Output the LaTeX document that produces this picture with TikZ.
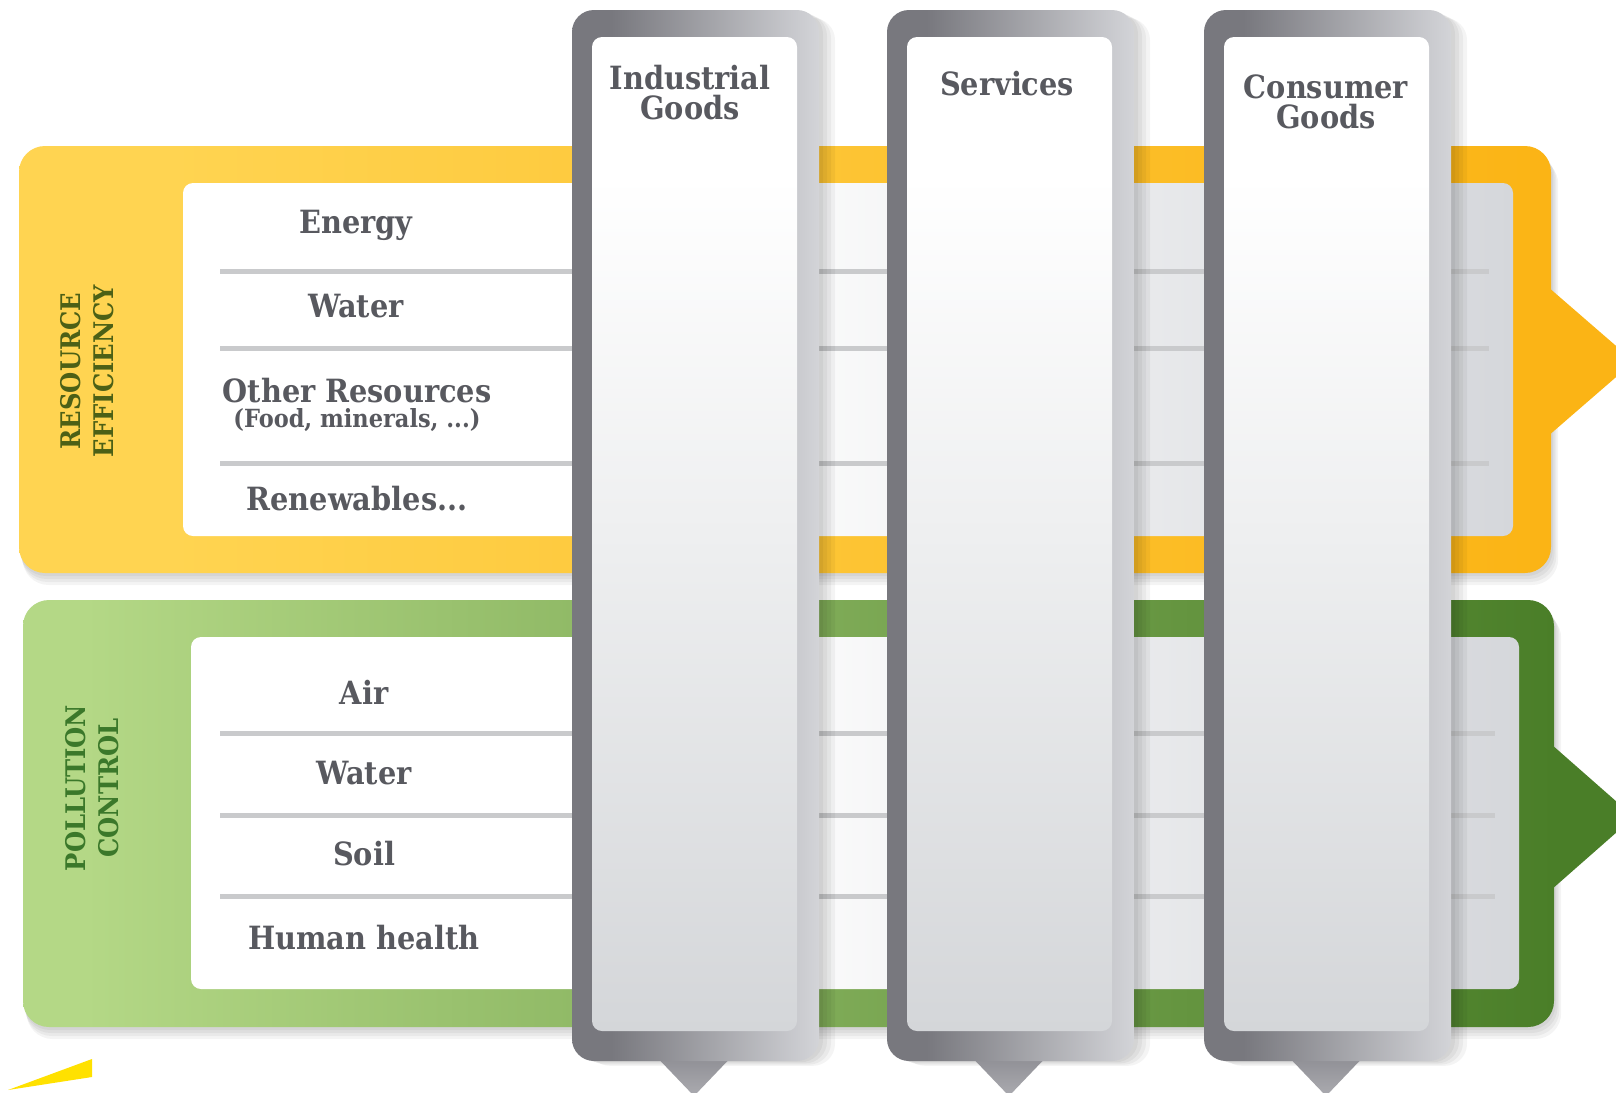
\documentclass[tikz,border=0pt]{standalone}
\usepackage{fontspec}
\setmainfont{DejaVu Serif Condensed}
\usetikzlibrary{calc}
\definecolor{txt}{HTML}{58595F}
\definecolor{yelL}{HTML}{FFD451}
\definecolor{yelR}{HTML}{FBB415}
\definecolor{grnL}{HTML}{B4D886}
\definecolor{grnR}{HTML}{4A7E28}
\definecolor{colD}{HTML}{78787E}
\definecolor{colL}{HTML}{D3D4D8}
\definecolor{inGray}{HTML}{D5D7DB}
\definecolor{colInB}{HTML}{D4D6D9}
\definecolor{colInM}{HTML}{EEEFF0}
\definecolor{sepc}{HTML}{C9CACC}
\definecolor{retxt}{HTML}{4C6016}
\definecolor{pctxt}{HTML}{3B782A}
\definecolor{wedgec}{HTML}{FFE100}
\definecolor{ptrT}{HTML}{8A8A90}
\definecolor{ptrB}{HTML}{ABABB0}
\pgfdeclarehorizontalshading{yband}{100bp}{color(0bp)=(yelL); color(30bp)=(yelL); color(75bp)=(yelR); color(100bp)=(yelR)}
\pgfdeclarehorizontalshading{gband}{100bp}{color(0bp)=(grnL); color(27bp)=(grnL); color(75bp)=(grnR); color(100bp)=(grnR)}
\pgfdeclarehorizontalshading{inbox}{100bp}{color(0bp)=(white); color(45bp)=(white); color(75bp)=(inGray); color(100bp)=(inGray)}
\pgfdeclarehorizontalshading{colframe}{100bp}{color(0bp)=(colD); color(25bp)=(colD); color(33bp)=(colD); color(75bp)=(colL); color(100bp)=(colL)}
\pgfdeclareverticalshading{colin}{100bp}{color(0bp)=(colInB); color(25bp)=(colInB); color(50bp)=(colInM); color(68bp)=(white); color(100bp)=(white)}
\begin{document}
\begin{tikzpicture}[x=0.5pt,y=-0.5pt,
  item/.style={text=txt, font=\bfseries\fontsize{16}{18}\selectfont, inner sep=0pt},
  smallitem/.style={text=txt, font=\bfseries\fontsize{12.5}{14}\selectfont, inner sep=0pt},
  ttl/.style={text=txt, align=center, inner sep=0pt},
  vlab/.style={rotate=90, align=center, font=\bfseries\fontsize{13.5}{16.5}\selectfont, inner sep=0pt},
  sepline/.style={line width=2.5pt, draw=sepc},
  shadowfill/.style={fill=black, opacity=0.045},
]
\useasboundingbox (0,0) rectangle (1616,1092);
\clip (0,0) rectangle (1616,1092);
\fill[white] (0,0) rectangle (1616,1092);

% ---------- band shadows
\foreach \s in {3,6,9,12}{
  \fill[shadowfill, rounded corners=13pt] (19+\s*0.3,146+\s) rectangle (1551+\s*0.6,573+\s);
  \fill[shadowfill, rounded corners=13pt] (23+\s*0.3,600+\s) rectangle (1554+\s*0.6,1027+\s);
}

% ---------- resource efficiency band
\fill[yelR] (1540,280) -- (1634,361.5) -- (1540,443) -- cycle;
\shade[shading=yband, rounded corners=13pt] (19,146) rectangle (1551,573);
\shade[shading=inbox, rounded corners=5pt] (183,183) rectangle (1513,536);
\draw[sepline] (220,271) -- (1489,271);
\draw[sepline] (220,348) -- (1489,348);
\draw[sepline] (220,463) -- (1489,463);

% ---------- pollution control band
\fill[grnR] (1543,737) -- (1634,817) -- (1543,897) -- cycle;
\shade[shading=gband, rounded corners=13pt] (23,600) rectangle (1554,1027);
\shade[shading=inbox, rounded corners=5pt] (191,637) rectangle (1519,989);
\draw[sepline] (220,733) -- (1495,733);
\draw[sepline] (220,815) -- (1495,815);
\draw[sepline] (220,896) -- (1495,896);

% ---------- band texts
\node[vlab, text=retxt] (re) at (87,371) {RESOURCE\\EFFICIENCY};
\node[item] (energy) at (356,225) {Energy};
\node[item] (water1) at (356,306) {Water};
\node[item] (other) at (357,391) {Other Resources};
\node[smallitem] (food) at (357,420) {(Food, minerals, ...)};
\node[item] (renew) at (357,499) {Renewables...};

\node[vlab, text=pctxt] (pc) at (92,788) {POLLUTION\\CONTROL};
\node[item] (air) at (364,692) {Air};
\node[item] (water2) at (364,773) {Water};
\node[item] (soil) at (364,854) {Soil};
\node[item] (human) at (364,938) {Human health};

% ---------- columns
\foreach \cx/\nm in {572/c1, 887/c2, 1204/c3}{
  \foreach \s in {4,8,12,16}{
    \fill[shadowfill, rounded corners=11pt] (\cx+\s,10+\s*0.5) rectangle (\cx+247+\s,1061+\s*0.3);
  }
  \shade[top color=ptrT, bottom color=ptrB] (\cx+78,1050) -- (\cx+166,1050) -- (\cx+122,1096) -- cycle;
  \shade[shading=colframe, rounded corners=11pt] (\cx,10) rectangle (\cx+247,1061);
  \shade[shading=colin, rounded corners=5pt] (\cx+20,37) rectangle (\cx+225,1031);
}

% ---------- column titles
\node[ttl, font=\bfseries\fontsize{16}{15}\selectfont] (ind) at (690,93) {Industrial\\Goods};
\node[ttl, font=\bfseries\fontsize{16}{14}\selectfont] (serv) at (1007,84) {Services};
\node[ttl, font=\bfseries\fontsize{16}{15}\selectfont] (cons) at (1326,102) {Consumer\\Goods};

% ---------- small yellow wedge
\fill[wedgec] (8,1090) -- (92,1059) -- (92,1077) -- cycle;
\end{tikzpicture}
\end{document}
